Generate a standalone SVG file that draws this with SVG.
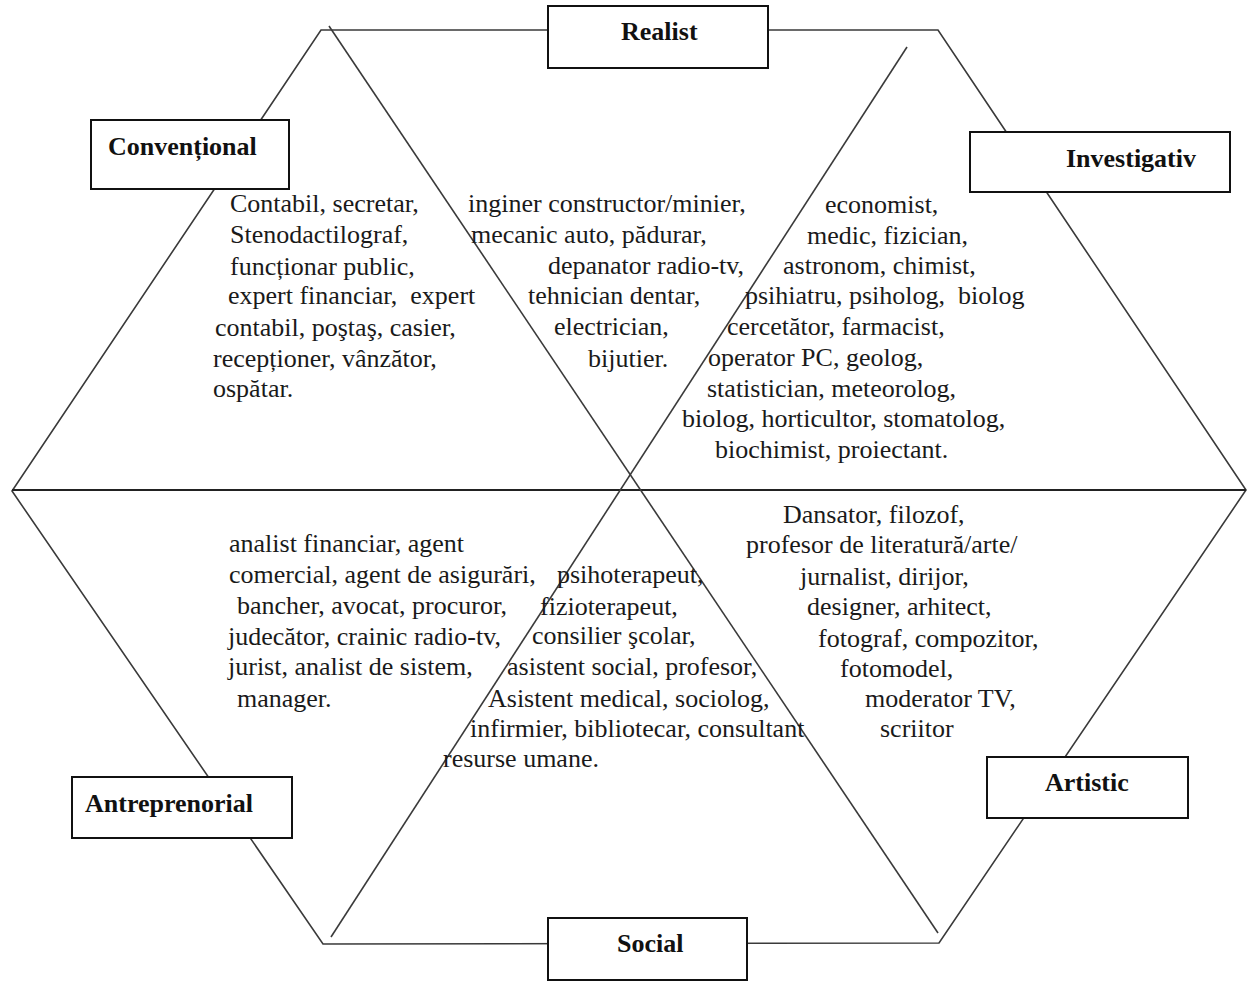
<svg xmlns="http://www.w3.org/2000/svg" width="1255" height="987" viewBox="0 0 1255 987">
<style>
.ln{fill:none;stroke:#3a3a3a;stroke-width:1.6;stroke-linejoin:miter}
.mid{stroke:#222;stroke-width:2}
.box{fill:#fff;stroke:#111;stroke-width:2}
.lbl{font-family:"Liberation Serif","Times New Roman",serif;font-size:26px;font-weight:bold;fill:#111}
.t{font-family:"Liberation Serif","Times New Roman",serif;font-size:26px;fill:#1a1a1a}
</style>
<rect width="1255" height="987" fill="#fff"/>
<g id="connectors">
<polygon class="ln" points="321,30 938,30 1246,490 939,943 323,944 12,491"/>
<line class="ln mid" x1="12" y1="490" x2="1246" y2="490"/>
<line class="ln" x1="329" y1="26" x2="938" y2="933"/>
<line class="ln" x1="907" y1="47" x2="331" y2="937"/>
</g>
<g id="realist">
<rect class="box" x="548" y="6" width="220" height="62"/>
<text class="lbl" x="621" y="40">Realist</text>
</g>
<g id="conventional">
<rect class="box" x="91" y="120" width="198" height="69"/>
<text class="lbl" x="108" y="155">Convențional</text>
</g>
<g id="investigativ">
<rect class="box" x="970" y="132" width="260" height="60"/>
<text class="lbl" x="1066" y="167">Investigativ</text>
</g>
<g id="antreprenorial">
<rect class="box" x="72" y="777" width="220" height="61"/>
<text class="lbl" x="85" y="812">Antreprenorial</text>
</g>
<g id="social">
<rect class="box" x="548" y="918" width="199" height="62"/>
<text class="lbl" x="617" y="952">Social</text>
</g>
<g id="artistic">
<rect class="box" x="987" y="757" width="201" height="61"/>
<text class="lbl" x="1045" y="791">Artistic</text>
</g>
<g id="conventional-jobs" class="t">
<text x="230" y="212">Contabil, secretar,</text>
<text x="230" y="243">Stenodactilograf,</text>
<text x="230" y="275">funcționar public,</text>
<text x="228" y="304" xml:space="preserve">expert financiar,  expert</text>
<text x="215" y="336">contabil, poştaş, casier,</text>
<text x="213" y="367">recepționer, vânzător,</text>
<text x="213" y="397">ospătar.</text>
</g>
<g id="realist-jobs" class="t">
<text x="468" y="212">inginer constructor/minier,</text>
<text x="471" y="243">mecanic auto, pădurar,</text>
<text x="548" y="274">depanator radio-tv,</text>
<text x="528" y="304">tehnician dentar,</text>
<text x="554" y="335">electrician,</text>
<text x="588" y="367">bijutier.</text>
</g>
<g id="investigativ-jobs" class="t">
<text x="825" y="213">economist,</text>
<text x="807" y="244">medic, fizician,</text>
<text x="783" y="274">astronom, chimist,</text>
<text x="745" y="304" xml:space="preserve">psihiatru, psiholog,  biolog</text>
<text x="727" y="335">cercetător, farmacist,</text>
<text x="708" y="366">operator PC, geolog,</text>
<text x="707" y="397">statistician, meteorolog,</text>
<text x="682" y="427">biolog, horticultor, stomatolog,</text>
<text x="715" y="458">biochimist, proiectant.</text>
</g>
<g id="antreprenorial-jobs" class="t">
<text x="229" y="552">analist financiar, agent</text>
<text x="229" y="583">comercial, agent de asigurări,</text>
<text x="237" y="614">bancher, avocat, procuror,</text>
<text x="228" y="645">judecător, crainic radio-tv,</text>
<text x="228" y="675">jurist, analist de sistem,</text>
<text x="237" y="707">manager.</text>
</g>
<g id="social-jobs" class="t">
<text x="557" y="583">psihoterapeut,</text>
<text x="540" y="615">fizioterapeut,</text>
<text x="532" y="644">consilier şcolar,</text>
<text x="507" y="675">asistent social, profesor,</text>
<text x="488" y="707">Asistent medical, sociolog,</text>
<text x="470" y="737">infirmier, bibliotecar, consultant</text>
<text x="443" y="767">resurse umane.</text>
</g>
<g id="artistic-jobs" class="t">
<text x="783" y="523">Dansator, filozof,</text>
<text x="746" y="553">profesor de literatură/arte/</text>
<text x="800" y="585">jurnalist, dirijor,</text>
<text x="807" y="615">designer, arhitect,</text>
<text x="818" y="647">fotograf, compozitor,</text>
<text x="840" y="677">fotomodel,</text>
<text x="865" y="707">moderator TV,</text>
<text x="880" y="737">scriitor</text>
</g>
</svg>
